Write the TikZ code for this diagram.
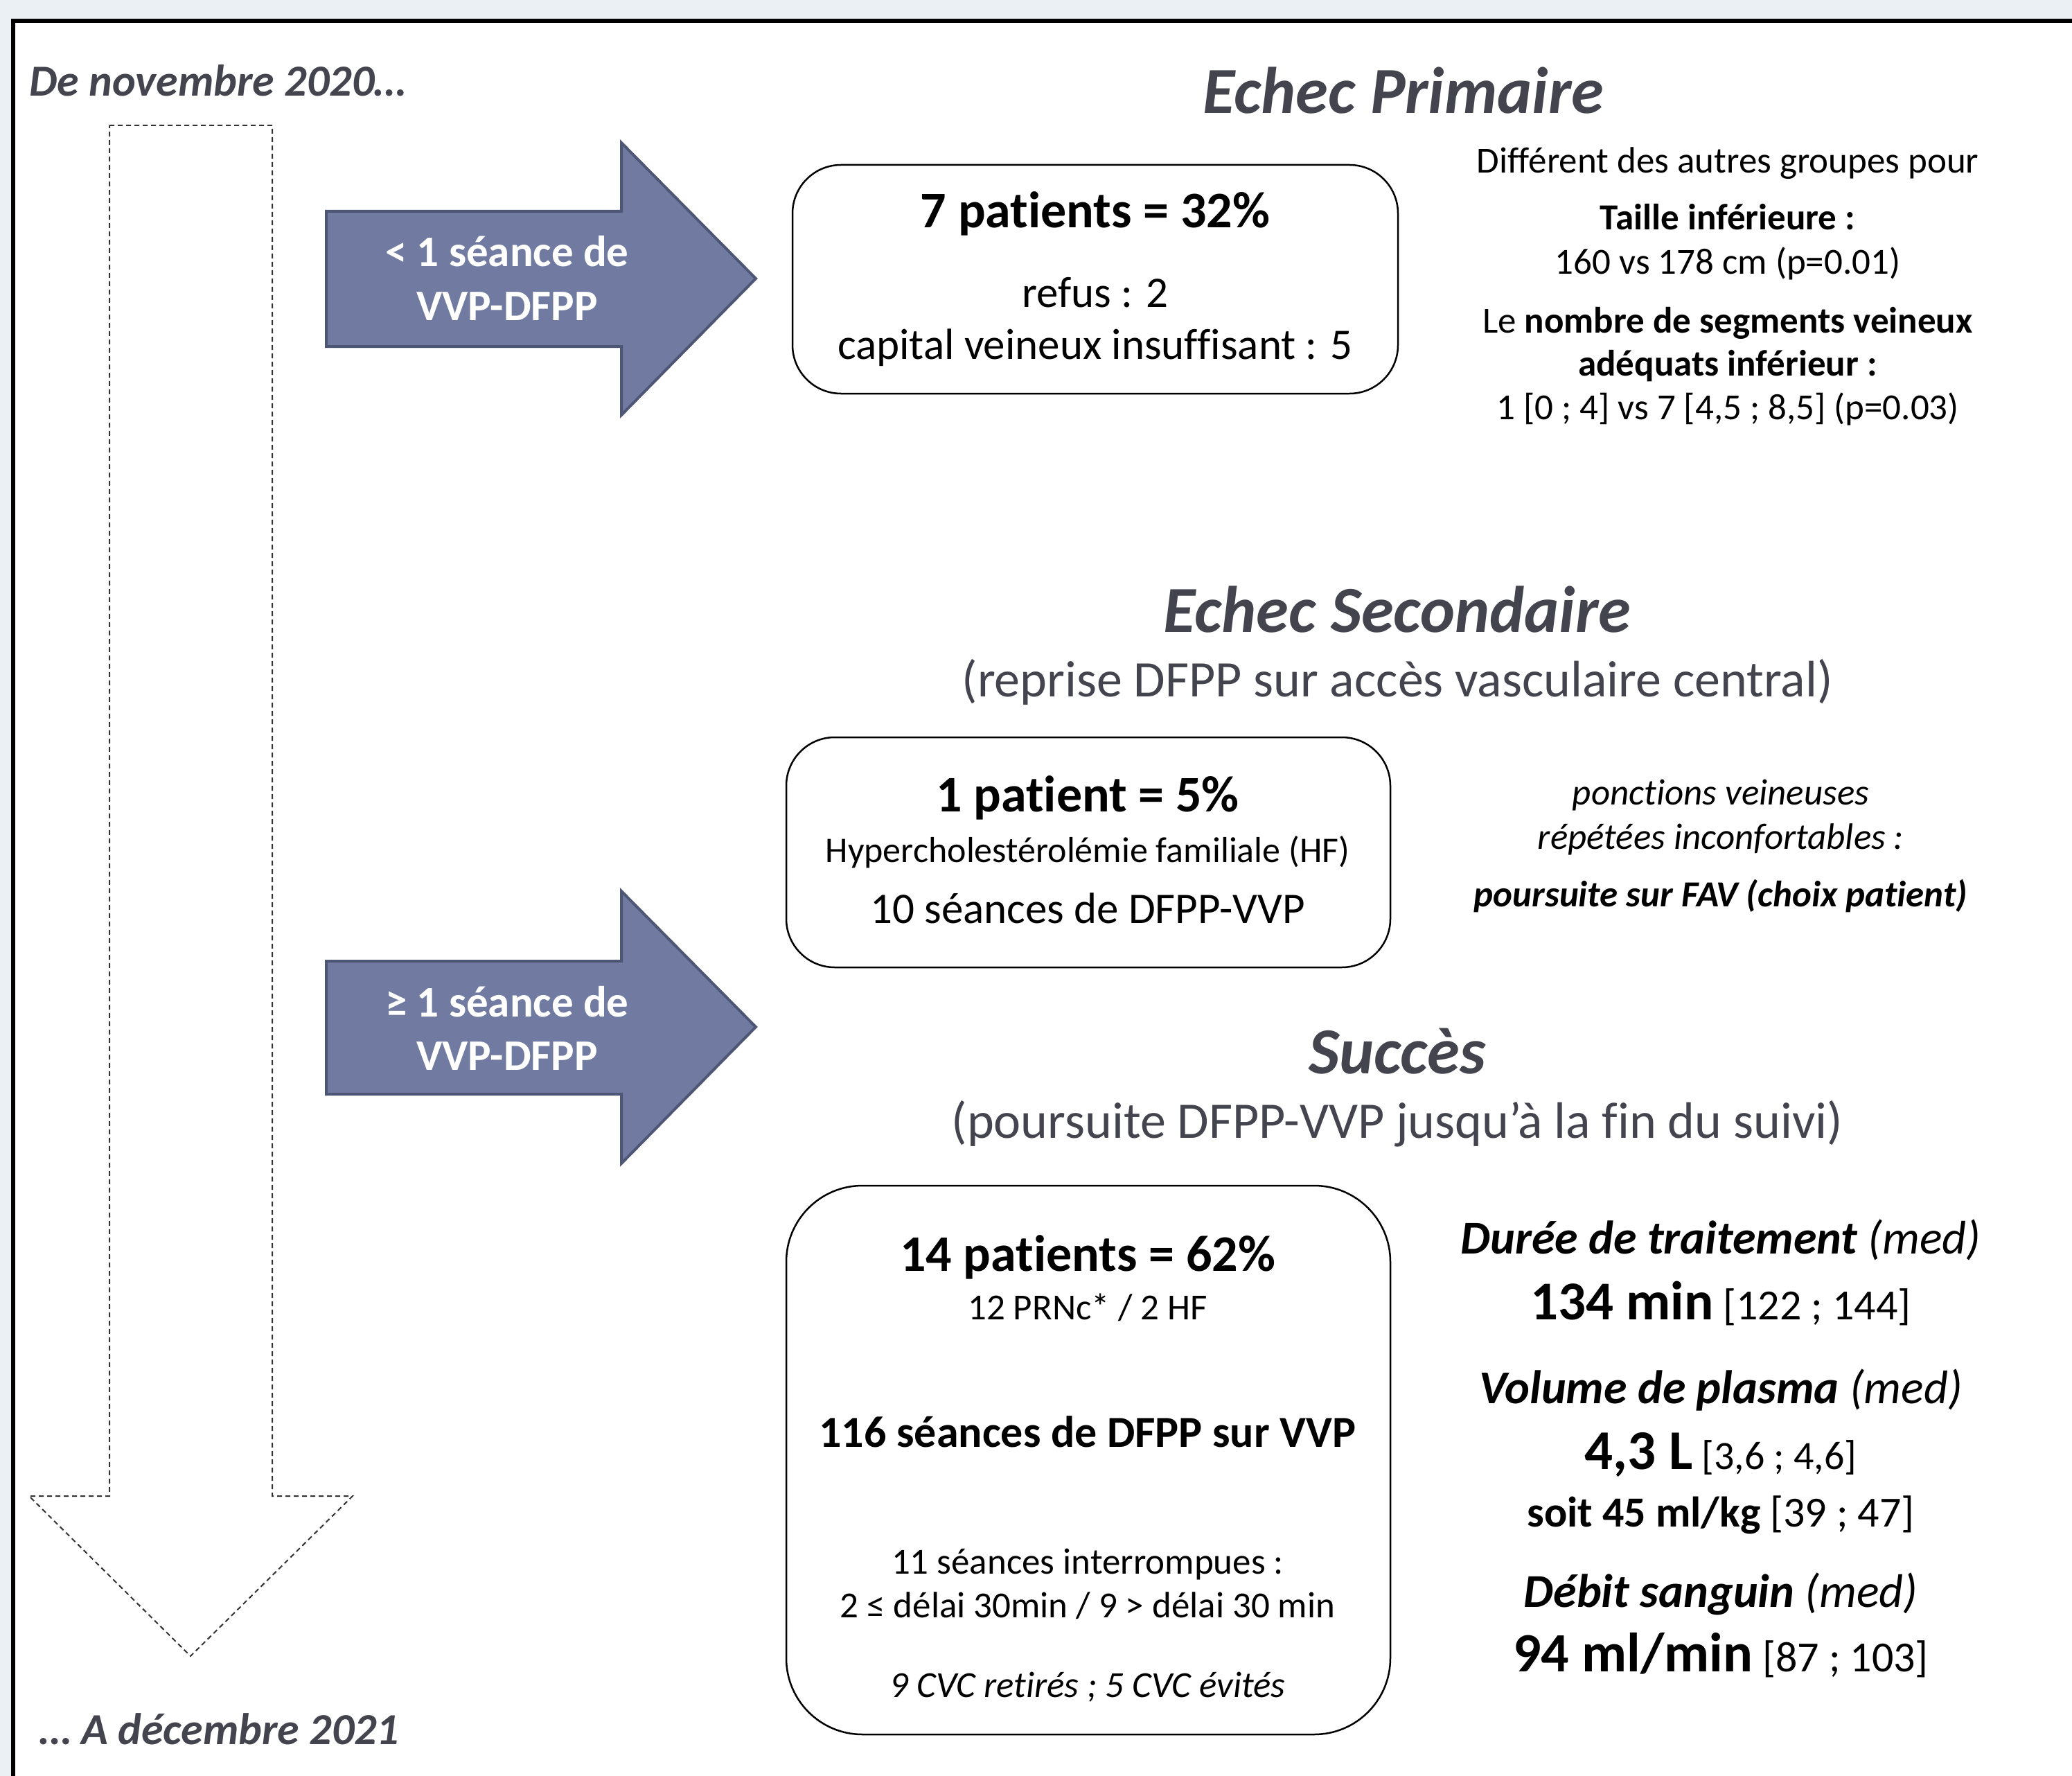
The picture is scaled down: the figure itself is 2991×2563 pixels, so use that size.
\documentclass[tikz,border=0pt]{standalone}
\usepackage{fontspec}
\setmainfont{Carlito}[Ligatures=NoCommon]
\newcommand\myfs[1]{\fontsize{#1}{#1}\selectfont}
\definecolor{bgc}{HTML}{EBF0F5}
\definecolor{tgray}{HTML}{44444F}
\definecolor{arrfill}{HTML}{717BA1}
\definecolor{arrdraw}{HTML}{4E5675}
\begin{document}
\begin{tikzpicture}[x=1pt,y=-1pt,
  t/.style={inner sep=0pt, anchor=base, text=black},
  head/.style={t, text=tgray, font=\myfs{95}\bfseries\itshape},
  sub/.style={t, text=tgray, font=\myfs{74}},
  big/.style={t, font=\myfs{74}\bfseries},
  mid/.style={t, font=\myfs{63}},
  sml/.style={t, font=\myfs{53}},
  smlb/.style={t, font=\myfs{53}\bfseries},
  rb/.style={t, font=\myfs{68}},
  box/.style={draw=black, line width=2.5pt, fill=white, minimum width=874pt, inner sep=0pt},
  blue/.style={fill=arrfill, draw=arrdraw, line width=4pt, line join=miter},
  atxt/.style={t, text=white, font=\myfs{63}\bfseries},
  dashar/.style={draw=black!80, line width=2pt, dash pattern=on 7pt off 5pt}
]
\useasboundingbox (0,0) rectangle (2991,2563);
\clip (0,0) rectangle (2991,2563);
\fill[bgc] (0,0) rectangle (2991,2563);
\draw[line width=6pt, fill=white] (19,30) rectangle (3100,2700);

% timeline
\draw[dashar] (158,181) -- (393,181) -- (393,2159) -- (509,2159) -- (275,2390) -- (42,2159) -- (158,2159) -- cycle;
\node[t, anchor=base west, text=tgray, font=\myfs{64}\bfseries\itshape] (start) at (42,139) {De novembre 2020…};
\node[t, anchor=base west, text=tgray, font=\myfs{64}\bfseries\itshape] (finish) at (57,2517) {… A décembre 2021};

% blue arrows
\draw[blue] (471,305) -- (897,305) -- (897,206) -- (1091,402) -- (897,599) -- (897,500) -- (471,500) -- cycle;
\node[atxt] (a1l1) at (732,385) {< 1 séance de};
\node[atxt] (a1l2) at (732,462) {VVP-DFPP};
\draw[blue] (471,1387) -- (897,1387) -- (897,1286) -- (1091,1482) -- (897,1679) -- (897,1579) -- (471,1579) -- cycle;
\node[atxt] (a2l1) at (732,1467) {≥ 1 séance de};
\node[atxt] (a2l2) at (732,1544) {VVP-DFPP};

% Echec primaire
\node[head] (h1) at (2026,164) {Echec Primaire};
\node[box, rounded corners=70pt, minimum height=330pt] (b1) at (1581,403) {};
\node[big] (b1a) at (1581,329) {7 patients = 32\%};
\node[mid] (b1b) at (1581,443) {refus : 2};
\node[mid] (b1c) at (1581,518) {capital veineux insuffisant : 5};

\node[sml] (r1a) at (2494,250) {Différent des autres groupes pour};
\node[smlb] (r1b) at (2494,332) {Taille inférieure :};
\node[sml] (r1c) at (2494,396) {160 vs 178 cm (p=0.01)};
\node[sml] (r1d) at (2494,480) {Le \textbf{nombre de segments veineux}};
\node[smlb] (r1e) at (2494,542) {adéquats inférieur :};
\node[sml] (r1f) at (2494,605) {1 [0 ; 4] vs 7 [4,5 ; 8,5] (p=0.03)};

% Echec secondaire
\node[head] (h2) at (2017,912) {Echec Secondaire};
\node[sub] (s2) at (2017,1005) {(reprise DFPP sur accès vasculaire central)};
\node[box, rounded corners=70pt, minimum height=332pt, minimum width=872pt] (b2) at (1571,1230) {};
\node[big] (b2a) at (1570,1171) {1 patient = 5\%};
\node[t, font=\myfs{52}] (b2b) at (1570,1244) {Hypercholestérolémie familiale (HF)};
\node[mid] (b2c) at (1570,1332) {10 séances de DFPP-VVP};

\node[sml, font=\myfs{53}\itshape] (r2a) at (2484,1161) {ponctions veineuses};
\node[sml, font=\myfs{53}\itshape] (r2b) at (2484,1225) {répétées inconfortables :};
\node[sml, font=\myfs{53}\bfseries\itshape] (r2c) at (2484,1308) {poursuite sur FAV (choix patient)};

% Succes
\node[head] (h3) at (2017,1549) {Succès};
\node[sub] (s3) at (2017,1642) {(poursuite DFPP-VVP jusqu’à la fin du suivi)};
\node[box, rounded corners=110pt, minimum height=792pt, minimum width=872pt] (b3) at (1571,2107) {};
\node[big] (b3a) at (1570,1834) {14 patients = 62\%};
\node[sml] (b3b) at (1570,1904) {12 PRNc* / 2 HF};
\node[t, font=\myfs{64}\bfseries] (b3c) at (1570,2088) {116 séances de DFPP sur VVP};
\node[sml] (b3d) at (1570,2271) {11 séances interrompues :};
\node[sml] (b3e) at (1570,2334) {2 ≤ délai 30min / 9 > délai 30 min};
\node[sml, font=\myfs{53}\itshape] (b3f) at (1570,2449) {9 CVC retirés ; 5 CVC évités};

\node[rb, font=\myfs{68}\itshape] (r3a) at (2484,1809) {\textbf{Durée de traitement} (med)};
\node[t, font=\myfs{62}] (r3b) at (2484,1904) {{\myfs{79}\bfseries 134 min} [122 ; 144]};
\node[rb, font=\myfs{68}\itshape] (r3c) at (2484,2025) {\textbf{Volume de plasma} (med)};
\node[t, font=\myfs{58}] (r3d) at (2484,2120) {{\myfs{81}\bfseries 4,3 L} [3,6 ; 4,6]};
\node[t, font=\myfs{62}] (r3e) at (2484,2203) {{\bfseries soit 45 ml/kg} [39 ; 47]};
\node[rb, font=\myfs{68}\itshape] (r3f) at (2484,2319) {\textbf{Débit sanguin} (med)};
\node[t, font=\myfs{62}] (r3g) at (2484,2412) {{\myfs{80}\bfseries 94 ml/min} [87 ; 103]};
\end{tikzpicture}
\end{document}
